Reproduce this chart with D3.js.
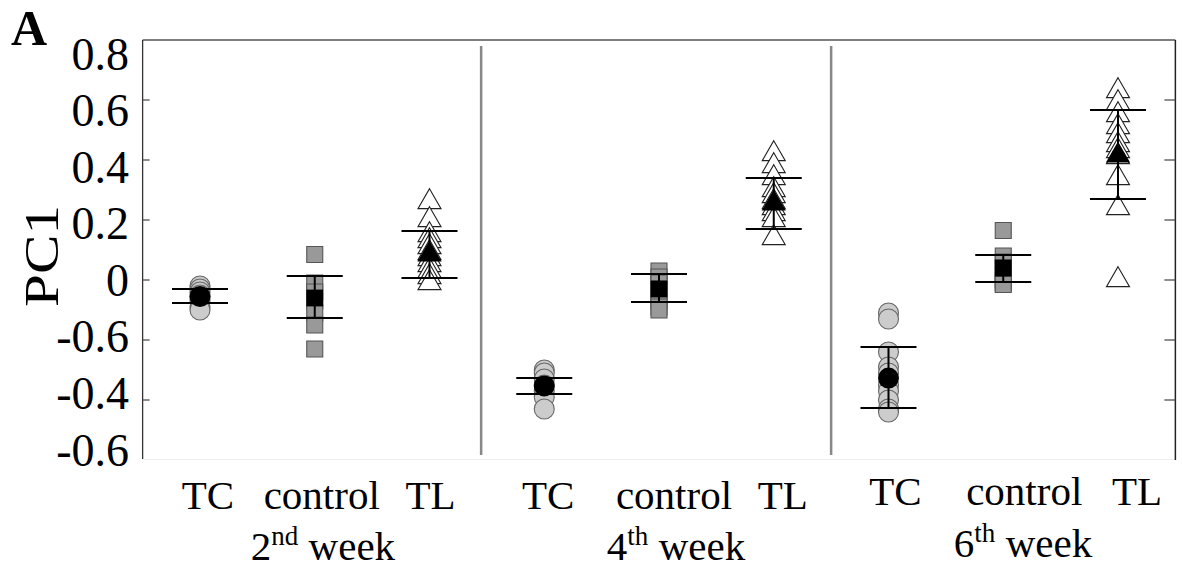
<!DOCTYPE html>
<html>
<head>
<meta charset="utf-8">
<script src="https://cdn.jsdelivr.net/npm/d3@7"></script>
<style>
  body { margin: 0; background: #fff; }
  svg { display: block; }
  text { font-family: "Liberation Serif", "Times New Roman", Times, "DejaVu Serif", serif; fill: #000; }
</style>
</head>
<body>
<div id="container"></div>
<script>
/**
 * CONSTANTS AND GLOBALS
 * */
const width = 1182,
  height = 570;

// group labels along the bottom
const groups = ["TC", "control", "TL"];
const weekNum = ["2", "4", "6"];
const weekSup = ["nd", "th", "th"];

// y tick labels as printed on the figure (one label reads -0.6 where -0.2 would be)
const tickValues = [0.8, 0.6, 0.4, 0.2, 0, -0.2, -0.4, -0.6];
const tickLabels = ["0.8", "0.6", "0.4", "0.2", "0", "-0.6", "-0.4", "-0.6"];

// individual PC1 scores
const tcW2 = [-0.02, -0.03, -0.04, -0.05, -0.06, -0.07, -0.09, -0.1];
const ctW2 = [0.085, -0.01, -0.04, -0.07, -0.11, -0.15, -0.23];
const tlW2 = [0.26, 0.2, 0.15, 0.13, 0.11, 0.09, 0.07, 0.05, 0.03, 0.01, -0.01];
const tcW4 = [-0.3, -0.31, -0.33, -0.35, -0.37, -0.39, -0.43];
const ctW4 = [0.03, 0.01, -0.01, -0.03, -0.05, -0.07, -0.09, -0.1];
const tlW4 = [0.42, 0.38, 0.34, 0.3, 0.28, 0.26, 0.24, 0.22, 0.2, 0.14];
const tcW6 = [-0.11, -0.13, -0.24, -0.29, -0.31, -0.35, -0.37, -0.4, -0.43, -0.44];
const ctW6 = [0.165, 0.08, 0.06, 0.04, 0.02, 0.0, -0.01, -0.015];
const tlW6 = [0.63, 0.59, 0.55, 0.51, 0.48, 0.45, 0.43, 0.41, 0.34, 0.24, 0.0];

// group means and error bar ends, in the same order (TC, control, TL per week)
const means = [-0.055, -0.06, 0.085, -0.353, -0.03, 0.255, -0.327, 0.04, 0.415];
const lower = [-0.077, -0.127, 0.007, -0.38, -0.073, 0.17, -0.427, -0.007, 0.27];
const upper = [-0.03, 0.013, 0.163, -0.327, 0.02, 0.34, -0.223, 0.083, 0.567];

const allPoints = [tcW2, ctW2, tlW2, tcW4, ctW4, tlW4, tcW6, ctW6, tlW6];

// small label nudges (px) so text sits where the figure has it
const labelShift = [8, 7, 1, 4, 15, 9, 7, 21, 19];

const svg = d3
  .select("#container")
  .append("svg")
  .attr("width", width)
  .attr("height", height);

const x = d3.scaleLinear().domain([1, 9]).range([200, 1118]);
const y = d3.scaleLinear().domain([0.8, -0.6]).range([40, 460]);
// tick labels are spread a bit tighter than the ticks themselves
const yLabel = d3.scaleLinear().domain([0.8, -0.6]).range([54, 450]);

const left = x(0.5),
  right = x(9.5);

// frame
svg.append("line")
  .attr("x1", left).attr("x2", right).attr("y1", 40).attr("y2", 40)
  .attr("stroke", "#555").attr("stroke-width", 1.5);
svg.append("line")
  .attr("x1", left).attr("x2", right).attr("y1", 459.5).attr("y2", 459.5)
  .attr("stroke", "#eee").attr("stroke-width", 1);
svg.append("line")
  .attr("x1", left).attr("x2", left).attr("y1", 40).attr("y2", 459)
  .attr("stroke", "#333").attr("stroke-width", 1.3);
svg.append("line")
  .attr("x1", right).attr("x2", right).attr("y1", 40).attr("y2", 460)
  .attr("stroke", "#222").attr("stroke-width", 1.5);

// inner ticks on both sides
const inner = tickValues.slice(1, -1);
svg.selectAll(".tickL")
  .data(inner)
  .join("line")
  .attr("class", "tickL")
  .attr("x1", left).attr("x2", left + 7)
  .attr("y1", (d) => y(d)).attr("y2", (d) => y(d))
  .attr("stroke", "#444").attr("stroke-width", 1.2);
svg.selectAll(".tickR")
  .data(inner)
  .join("line")
  .attr("class", "tickR")
  .attr("x1", right).attr("x2", right - 11)
  .attr("y1", (d) => y(d)).attr("y2", (d) => y(d))
  .attr("stroke", "#444").attr("stroke-width", 1.2);

// tick labels
svg.selectAll(".ylab")
  .data(tickValues)
  .join("text")
  .attr("class", "ylab")
  .attr("x", 129)
  .attr("y", (d) => yLabel(d))
  .attr("dy", "0.34em")
  .attr("text-anchor", "end")
  .attr("font-size", 46)
  .text((d, i) => tickLabels[i]);

svg.append("text")
  .attr("transform", "translate(58,256) rotate(-90)")
  .attr("text-anchor", "middle")
  .attr("font-size", 49)
  .attr("textLength", 102)
  .attr("lengthAdjust", "spacingAndGlyphs")
  .text("PC1");

svg.append("text")
  .attr("x", 11).attr("y", 45)
  .attr("font-size", 50)
  .attr("font-weight", "bold")
  .text("A");

// week separators
svg.selectAll(".sep")
  .data([3.45, 6.5])
  .join("line")
  .attr("class", "sep")
  .attr("x1", (d) => x(d)).attr("x2", (d) => x(d))
  .attr("y1", 46).attr("y2", 455)
  .attr("stroke", "#888").attr("stroke-width", 2.5);

// marker styles per group type
const shapes = [d3.symbolCircle, d3.symbolSquare, d3.symbolTriangle];
const sizes = [314, 256, 230];
const fills = ["#cccccc", "#999999", "#ffffff"];
const strokes = ["#666", "#555", "#222"];

allPoints.forEach((pts, i) => {
  const g = i % 3;
  const sym = d3.symbol().type(shapes[g]).size(sizes[g]);
  svg.append("g")
    .selectAll("path")
    .data(pts)
    .join("path")
    .attr("d", sym)
    .attr("transform", (d) => `translate(${x(i + 1)},${y(d)})`)
    .attr("fill", fills[g])
    .attr("stroke", strokes[g])
    .attr("stroke-width", 1.1);
});

// mean markers
svg.selectAll(".mean")
  .data(means)
  .join("path")
  .attr("class", "mean")
  .attr("d", (d, i) => d3.symbol().type(shapes[i % 3]).size(sizes[i % 3] * 1.1)())
  .attr("transform", (d, i) => `translate(${x(i + 1)},${y(d)})`)
  .attr("fill", "#000");

// error bars
const bars = svg.append("g").attr("stroke", "#000").attr("stroke-width", 2);
means.forEach((m, i) => {
  const cx = x(i + 1);
  bars.append("line")
    .attr("x1", cx).attr("x2", cx)
    .attr("y1", y(lower[i])).attr("y2", y(upper[i]));
  [lower[i], upper[i]].forEach((v) => {
    bars.append("line")
      .attr("x1", cx - 28).attr("x2", cx + 28)
      .attr("y1", y(v)).attr("y2", y(v));
  });
});

// group labels
svg.selectAll(".glab")
  .data(means)
  .join("text")
  .attr("class", "glab")
  .attr("x", (d, i) => x(i + 1) + labelShift[i])
  .attr("y", (d, i) => (i < 6 ? 509 : 505))
  .attr("text-anchor", "middle")
  .attr("font-size", 41)
  .text((d, i) => groups[i % 3]);

// week labels
const weekX = [323, 676, 1023];
const wk = svg.selectAll(".wlab")
  .data(weekNum)
  .join("text")
  .attr("class", "wlab")
  .attr("x", (d, i) => weekX[i])
  .attr("y", (d, i) => (i < 2 ? 560 : 557))
  .attr("text-anchor", "middle")
  .attr("font-size", 41);
wk.append("tspan").text((d) => d);
wk.append("tspan")
  .attr("font-size", 27)
  .attr("dy", -15)
  .text((d, i) => weekSup[i]);
wk.append("tspan")
  .attr("dy", 15)
  .text(" week");
</script>
</body>
</html>
